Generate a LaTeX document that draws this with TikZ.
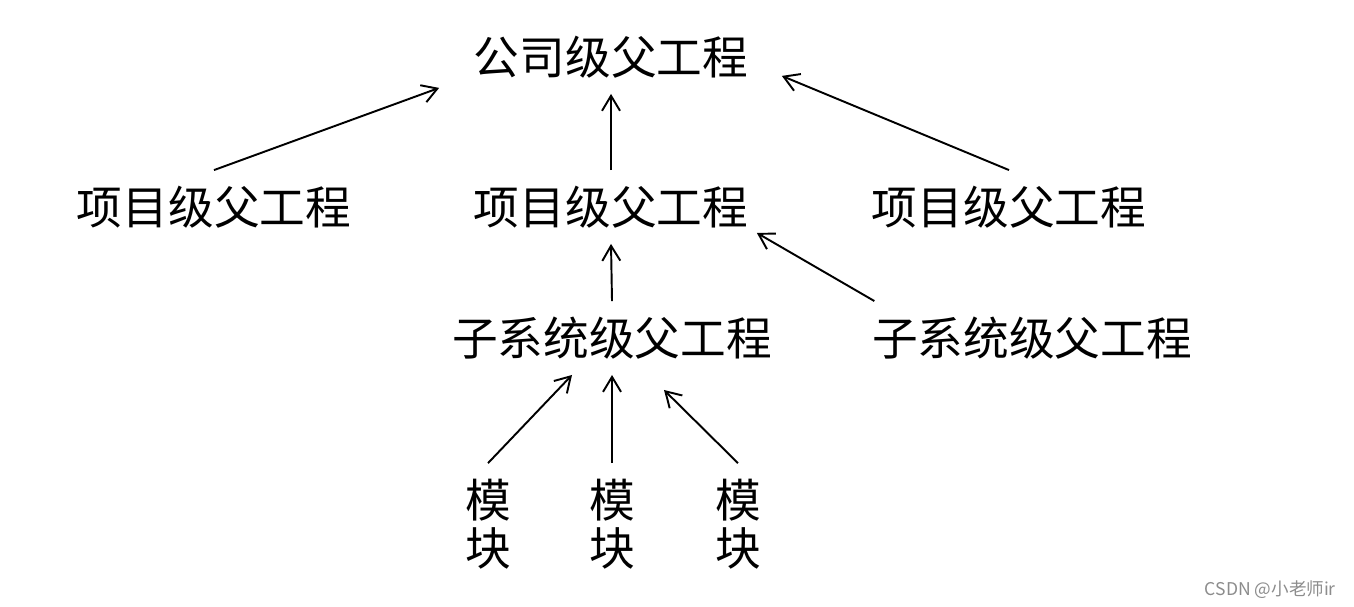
\documentclass[tikz,border=0pt]{standalone}
\usepackage{fontspec}
\setmainfont{Noto Sans CJK SC}
\usetikzlibrary{arrows.meta,calc}

\tikzset{
  lvl/.style={font=\fontsize{26}{27.3}\selectfont, inner sep=0pt, outer sep=9pt, align=center},
  arr/.style={-{Straight Barb[length=3mm,width=3.6mm]}, line width=1.1pt},
}

\begin{document}
\begin{tikzpicture}[x=0.02cm, y=-0.02cm]
  \useasboundingbox (0,0) rectangle (1354,607);

  % levels
  \node[lvl] (top) at (611,57) {公司级父工程};
  \node[lvl] (lp) at (214,207) {项目级父工程};
  \node[lvl] (mp) at (611,207) {项目级父工程};
  \node[lvl] (rp) at (1009,207) {项目级父工程};
  \node[lvl] (ms) at (612,338) {子系统级父工程};
  \node[lvl] (rs) at (1032,338) {子系统级父工程};

  % modules
  \foreach \i/\x in {1/488,2/612,3/738} {
    \node[lvl] (m\i) at (\x,524) {模\\块};
  }

  \draw[arr] (lp.north) -- ($(top.south west)+(-19,-6)$);
  \draw[arr] (mp.north) -- (top.south);
  \draw[arr] (rp.north) -- ($(top.south east)+(18,-18)$);
  \draw[arr] (ms.north) -- (mp.south);
  \draw[arr] ($(rs.north west)+(18,0)$) -- ($(mp.south east)+(-7,-11)$);
  \draw[arr] (m1.north) -- ($(ms.south)+(-40,0)$);
  \draw[arr] (m2.north) -- (ms.south);
  \draw[arr] (m3.north) -- ($(ms.south)+(52,15)$);

  \node[font=\fontsize{10}{12}\selectfont, text=black!45, anchor=east] (mark) at (1342,590) {CSDN @小老师ir};
\end{tikzpicture}
\end{document}
